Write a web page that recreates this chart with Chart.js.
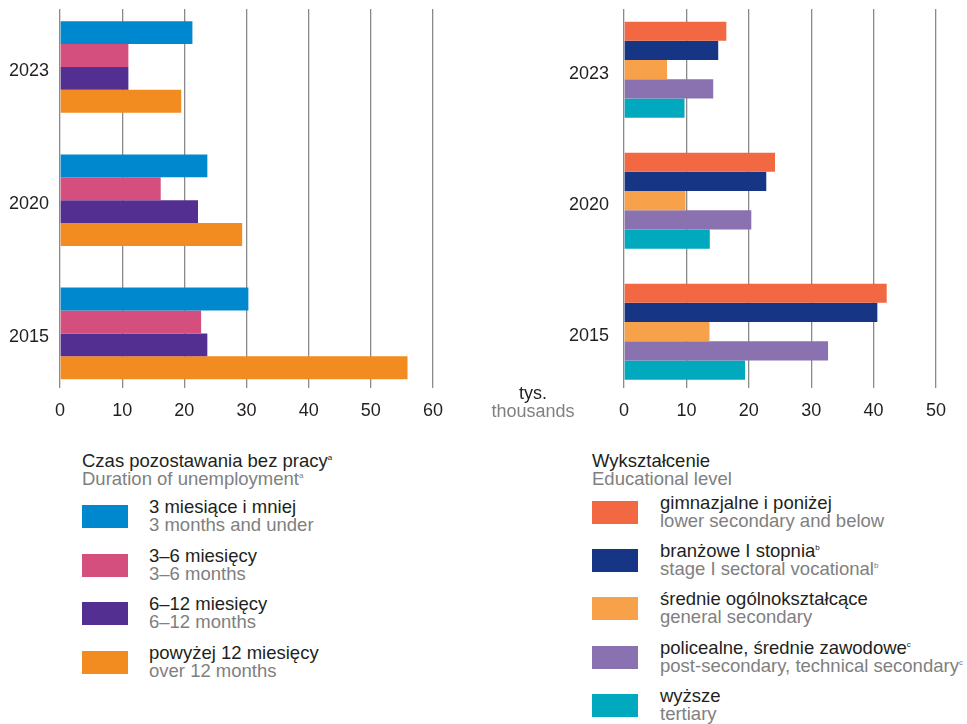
<!DOCTYPE html>
<html>
<head>
<meta charset="utf-8">
<script src="https://cdn.jsdelivr.net/npm/chart.js@4.4.1/dist/chart.umd.min.js"></script>
<style>
  body { margin: 0; background: #fff; font-family: "Liberation Sans", Arial, sans-serif; }
  #page { position: relative; width: 967px; height: 724px; overflow: hidden; }
  .box { position: absolute; top: 0; height: 430px; }
  .txt { position: absolute; font-size: 18.5px; line-height: 17.5px; color: #231f20; white-space: nowrap; }
  .en { color: #808080; }
  .sw { position: absolute; width: 46px; height: 23px; }
  sup { font-size: 8px; vertical-align: 7px; line-height: 0; }
</style>
</head>
<body>
<div id="page">
  <div class="box" style="left:0;width:460px"><canvas id="left"></canvas></div>
  <div class="box" style="left:480px;width:487px"><canvas id="right"></canvas></div>
  <div class="txt" style="left:488px;top:384px;width:90px;text-align:center;font-size:18px;line-height:18px">tys.<br><span class="en">thousands</span></div>
  <div id="legendLeft"></div>
  <div id="legendRight"></div>
</div>
<script>
const years = ['2023', '2020', '2015'];

// czas pozostawania bez pracy (tys.)
const durationPl = ['3 miesiące i mniej', '3–6 miesięcy', '6–12 miesięcy', 'powyżej 12 miesięcy'];
const durationEn = ['3 months and under', '3–6 months', '6–12 months', 'over 12 months'];
const durationColors = ['#0088cf', '#d54f7e', '#532f91', '#f28c20'];
const upTo3 = [21.3, 23.7, 30.3];
const m3to6 = [11.0, 16.2, 22.7];
const m6to12 = [11.0, 22.2, 23.7];
const over12 = [19.5, 29.3, 55.9];

// wykształcenie (tys.)
const eduPl = ['gimnazjalne i poniżej', 'branżowe I stopnia', 'średnie ogólnokształcące', 'policealne, średnie zawodowe', 'wyższe'];
const eduEn = ['lower secondary and below', 'stage I sectoral vocational', 'general secondary', 'post-secondary, technical secondary', 'tertiary'];
const eduNotes = ['', 'b', '', 'c', ''];
const eduColors = ['#f26842', '#163584', '#f7a24b', '#8a72b1', '#00a9bd'];
const lowerSec = [16.4, 24.2, 42.1];
const vocational = [15.1, 22.8, 40.6];
const generalSec = [6.9, 9.85, 13.7];
const technical = [14.3, 20.4, 32.7];
const tertiary = [9.7, 13.75, 19.4];

const FONT = '"Liberation Sans", Arial, sans-serif';
Chart.defaults.font.family = FONT;
Chart.defaults.color = '#231f20';

function pts(vals) {
  return vals.map((v, i) => ({ x: v, y: i }));
}

function makeChart(id, series, colors, xMax, yMin, yMax, yWidth, padRight, groupPct, tickPad) {
  new Chart(document.getElementById(id), {
    type: 'bar',
    data: {
      datasets: series.map((s, i) => ({
        data: pts(s),
        backgroundColor: colors[i],
        borderWidth: 0,
        barPercentage: 1,
        categoryPercentage: groupPct
      }))
    },
    options: {
      indexAxis: 'y',
      responsive: true,
      maintainAspectRatio: false,
      animation: false,
      layout: { padding: { top: 9, right: padRight, bottom: 0, left: 0 } },
      plugins: { legend: { display: false }, tooltip: { enabled: false } },
      scales: {
        x: {
          min: 0,
          max: xMax,
          border: { display: false },
          grid: { color: '#8a8a8a', lineWidth: 1.3, drawTicks: false },
          ticks: { stepSize: 10, padding: 12, font: { size: 18 } },
          afterFit: s => { s.height = 42; s.paddingLeft = 0; s.paddingRight = 0; }
        },
        y: {
          type: 'linear',
          min: yMin,
          max: yMax,
          reverse: true,
          offset: false,
          border: { display: false },
          grid: { display: false, drawTicks: false, offset: false },
          afterBuildTicks: s => { s.ticks = years.map((_, i) => ({ value: i })); },
          ticks: { padding: tickPad, labelOffset: 4, font: { size: 18 }, callback: v => years[v] },
          afterFit: s => { s.width = yWidth; s.paddingTop = 0; s.paddingBottom = 0; }
        }
      }
    }
  });
}

makeChart('left', [upTo3, m3to6, m6to12, over12], durationColors, 60, -0.435, 2.41, 60, 27, 0.687, 11);
makeChart('right', [lowerSec, vocational, generalSec, technical, tertiary], eduColors, 50, -0.463, 2.43, 144, 31, 0.733, 15);

function legend(el, x0, titlePl, titleEn, titleNote, pl, en, notes, colors, top0, step, textX) {
  let html = `<div class="txt" style="left:${x0}px;top:452px">${titlePl}${titleNote ? '<sup>' + titleNote + '</sup>' : ''}<br><span class="en">${titleEn}${titleNote ? '<sup>' + titleNote + '</sup>' : ''}</span></div>`;
  pl.forEach((p, i) => {
    const t = Math.round(top0 + i * step);
    const n = notes[i] ? '<sup>' + notes[i] + '</sup>' : '';
    html += `<div class="sw" style="left:${x0}px;top:${t}px;background:${colors[i]}"></div>`;
    html += `<div class="txt" style="left:${textX}px;top:${t - 7}px">${p}${n}<br><span class="en">${en[i]}${n}</span></div>`;
  });
  document.getElementById(el).innerHTML = html;
}

legend('legendLeft', 82, 'Czas pozostawania bez pracy', 'Duration of unemployment', 'a',
  durationPl, durationEn, ['', '', '', ''], durationColors, 505, 48.7, 149);
legend('legendRight', 592, 'Wykształcenie', 'Educational level', '',
  eduPl, eduEn, eduNotes, eduColors, 501, 48.2, 660);
</script>
</body>
</html>
